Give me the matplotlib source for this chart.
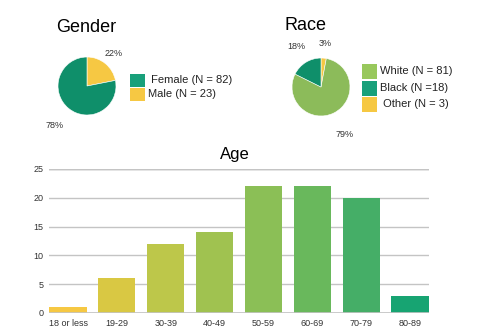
import matplotlib
matplotlib.use("Agg")
import matplotlib.pyplot as plt
import numpy as np
from matplotlib.patches import Rectangle

plt.rcParams['font.family'] = ['Liberation Sans', 'DejaVu Sans']

# data
gender_labels = ['Male', 'Female']
gender_counts = [23, 82]
gender_legend = [' Female (N = 82)', 'Male (N = 23)']

race_labels = ['Other', 'White', 'Black']
race_counts = [3, 81, 18]
race_legend = ['White (N = 81)', 'Black (N =18)', ' Other (N = 3)']

age_groups = ['18 or less', '19-29', '30-39', '40-49', '50-59', '60-69', '70-79', '80-89']
age_counts = [1, 6, 12, 14, 22, 22, 20, 3]

YELLOW = '#f6c843'
DARK_GREEN = '#0f8f6a'
LIGHT_GREEN = '#8cbb5a'
bar_colors = ['#f6c843', '#d9c843', '#bdc74a', '#a0c250',
              '#8bbf56', '#69b85c', '#45ae67', '#17a472']

W, H = 500, 331
fig = plt.figure(figsize=(W / 100, H / 100), dpi=100)


def px_axes(x0, y0, w, h):
    # pixel box (top-left origin) -> figure axes
    return fig.add_axes([x0 / W, 1 - (y0 + h) / H, w / W, h / H])


def draw_pie(cx, cy, counts, colors, label_dist):
    ax = px_axes(cx - 40, cy - 40, 80, 80)
    wedges, _ = ax.pie(counts, colors=colors, startangle=90, counterclock=False,
                       wedgeprops=dict(edgecolor='white', linewidth=0.4))
    total = sum(counts)
    for w, c, d in zip(wedges, counts, label_dist):
        ang = np.deg2rad((w.theta1 + w.theta2) / 2)
        ax.text(d * np.cos(ang), d * np.sin(ang), f'{round(100 * c / total)}%',
                ha='center', va='center', fontsize=6.5, color='#333333', clip_on=False)
    ax.set_xlim(-1.38, 1.38)
    ax.set_ylim(-1.38, 1.38)
    ax.axis('off')


def draw_legend(x, ys, labels, colors, box_h):
    for y, lab, col in zip(ys, labels, colors):
        fig.patches.append(Rectangle((x / W, 1 - (y + box_h / 2) / H), 15 / W, box_h / H,
                                     facecolor=col, edgecolor='none',
                                     transform=fig.transFigure, figure=fig))
        fig.text((x + 18) / W, 1 - y / H, lab, ha='left', va='center',
                 fontsize=8, color='#222222')


# Gender
fig.text(86 / W, 1 - 27 / H, 'Gender', ha='center', va='center', fontsize=13)
draw_pie(87, 86, gender_counts, [YELLOW, DARK_GREEN], [1.45, 1.75])
draw_legend(130, [80, 94], gender_legend, ['#18a07a', YELLOW], 13)

# Race
fig.text(306 / W, 1 - 26 / H, 'Race', ha='center', va='center', fontsize=13)
draw_pie(321, 87, race_counts, [YELLOW, LIGHT_GREEN, DARK_GREEN], [1.52, 1.84, 1.64])
draw_legend(362, [71, 88, 104], race_legend, ['#98c85c', '#18a07a', YELLOW], 15)

# Age
fig.text(235 / W, 1 - 155 / H, 'Age', ha='center', va='center', fontsize=12)
ax = px_axes(49, 169, 380, 144)
x = np.arange(len(age_groups))
ax.bar(x, age_counts, width=0.76, color=bar_colors, zorder=3)
ax.set_xlim(-0.39, len(age_groups) - 0.61)
ax.set_ylim(0, 25)
ax.set_yticks([0, 5, 10, 15, 20, 25])
ax.set_xticks(x)
ax.set_xticklabels(age_groups)
ax.grid(axis='y', color='#c4c4c4', linewidth=1, zorder=0)
ax.axhline(25, color='#a8a8a8', linewidth=1, zorder=1)
ax.axhline(0, color='#c4c4c4', linewidth=1.2, zorder=4)
for s in ax.spines.values():
    s.set_visible(False)
ax.tick_params(length=0, labelsize=6.5, colors='#333333')
ax.tick_params(axis='y', pad=4)
ax.tick_params(axis='x', pad=4)

fig.savefig('out.png', dpi=100)
